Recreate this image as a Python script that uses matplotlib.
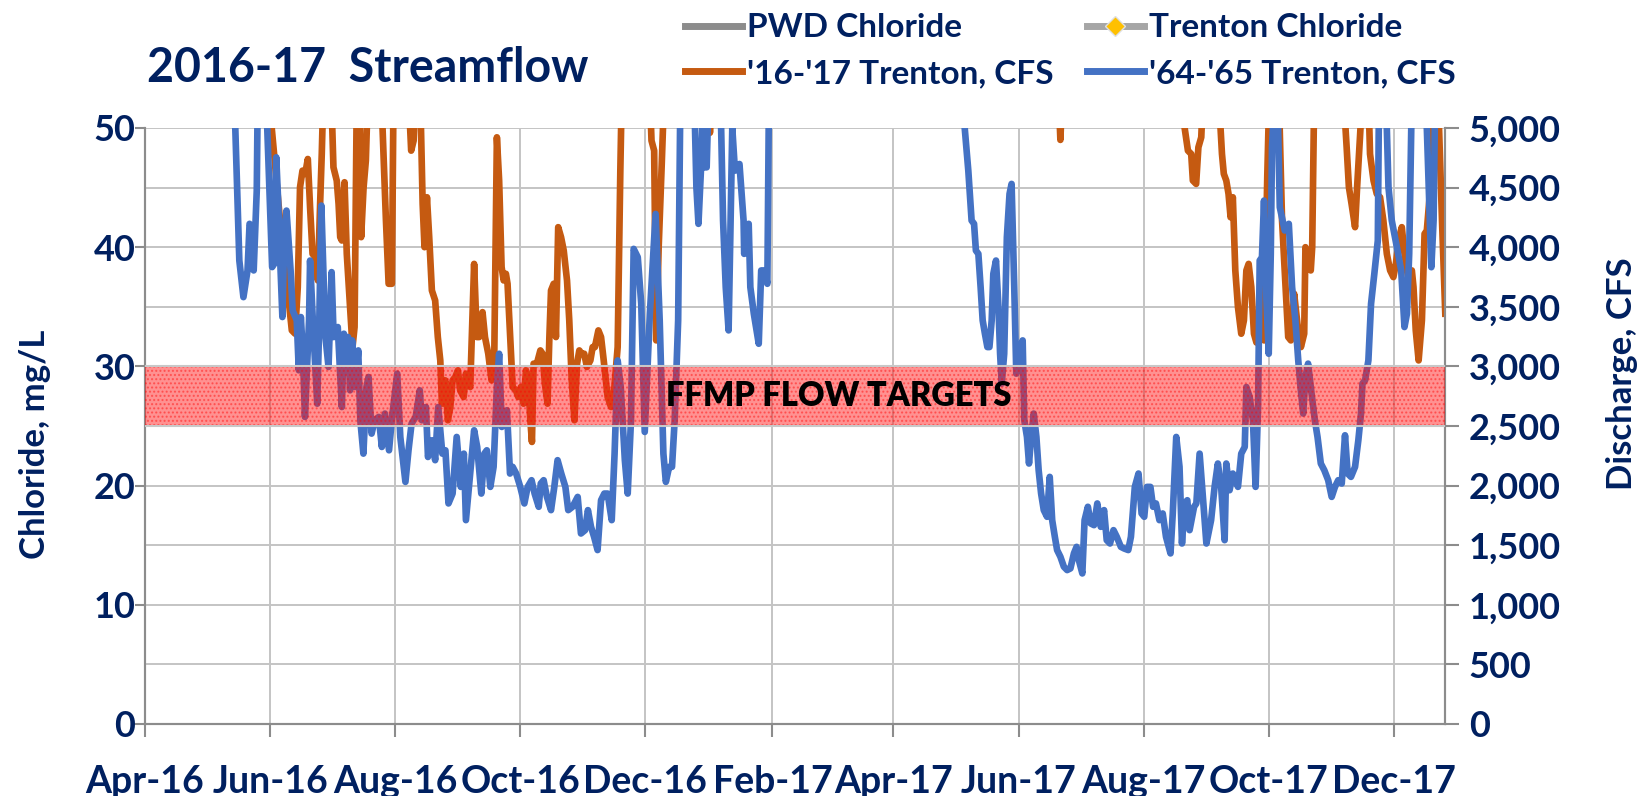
import pandas as pd
import matplotlib
matplotlib.use('Agg')
import matplotlib.pyplot as plt
import matplotlib.dates as mdates
from matplotlib.lines import Line2D
from matplotlib.ticker import FuncFormatter, MultipleLocator

plt.rcParams['font.family'] = ['Lato', 'DejaVu Sans']
plt.rcParams['font.weight'] = 'bold'
plt.rcParams['axes.labelweight'] = 'bold'

NAVY = '#002060'
GRID = '#C4C4C4'
AXIS = '#8C8C8C'
START = pd.Timestamp('2016-04-01')
END_DAY = 634

# days counted from 1 Apr 2016, flow in CFS (5300 = off the top of the chart)
flow_1617_day = [0, 61, 61.8, 63.4, 65.1, 66.7, 68.3, 69.9, 71.6, 73.2, 74.5, 75.6, 76.8, 78.1, 79.4,
                 80.5, 81.7, 83, 84.3, 85.4, 86.2, 87, 90.8, 91.9, 93.5, 94.4, 95.2, 96, 97.3, 98.4,
                 100, 101.2, 102.2, 103.3, 104.6, 105.4, 106.6, 107.7, 108.7, 115.2, 116.3, 117.5,
                 118.8, 120.4, 121.2, 128.5, 129.8, 131, 131.8, 134.2, 135.4, 136.3, 137.5, 138.6,
                 139.9, 141.5, 142.8, 144, 144.8, 146.4, 147.7, 148.9, 150, 151.3, 152.6, 153.7,
                 155.4, 156.5, 158.6, 160.5, 161.8, 163, 164.6, 165.8, 167.4, 169, 170.3, 171.6,
                 172.7, 173.9, 174.9, 176, 176.8, 178.1, 179.3, 180.9, 182, 183.3, 184.6, 185.8,
                 186.9, 187.9, 188.7, 189.5, 191.1, 192.8, 193.9, 195, 196.3, 197.2, 198, 199.3,
                 200.4, 201.5, 202.9, 204.2, 205.8, 206.9, 208.1, 209.4, 210.7, 211.8, 212.9, 214.2,
                 215.5, 217.2, 218.3, 219.4, 221.1, 222.4, 223.7, 225.6, 227.3, 228.9, 230.5, 231.8,
                 232.5, 246.2, 247, 248.3, 249.3, 250.5, 252, 253.2, 274, 275.5, 277, 445.5, 446.4,
                 447.3, 506.5, 507, 508.6, 510.2, 511, 512.6, 513.7, 515.1, 516, 524, 524.5, 525.2,
                 526.1, 527.3, 528.4, 529.4, 530.5, 531.7, 533, 534.6, 535.9, 537.1, 538.2, 539.5,
                 540.8, 542, 543.6, 544.7, 545.7, 547.3, 548.3, 552.9, 554.5, 555.8, 557.5, 558.8,
                 560.4, 562, 563.7, 565.3, 565.9, 567.2, 568.5, 569.2, 570.2, 584.4, 586, 587.1,
                 588.4, 590.1, 591.1, 592.5, 593.7, 596.6, 597.4, 599.1, 600.7, 602.3, 603.9, 605.6,
                 607.2, 608.8, 610, 611.6, 612.9, 614.2, 616.2, 617.8, 618.6, 619.7, 621.1, 622.7,
                 624, 625.1, 626.3, 627.9, 630.5, 632.5, 634.1]
flow_1617_cfs = [5300, 5300, 5000, 4698, 4363, 4084, 3805, 3581, 3302, 3274, 3665, 4503, 4642, 4615, 4740,
                 4335, 3944, 3916, 3721, 4363, 4782, 5300, 5300, 4670, 4559, 4363, 4084, 4056, 4545, 3944,
                 3497, 3162, 3330, 5300, 5300, 4084, 4503, 4726, 5300, 5300, 4782, 4224,
                 3693, 3693, 5300, 5300, 4810, 4894, 5300, 5300, 4363, 4000, 4419, 4084,
                 3637, 3553, 3246, 3050, 2687, 2883, 2548, 2659, 2883, 2911, 2967, 2799,
                 2743, 2939, 2827, 3860, 3246, 3246, 3455, 3246, 3106, 2883, 3050, 4922,
                 4559, 3833, 3721, 3777, 3693, 3246, 2827, 2799, 2743, 2827, 2687, 2967,
                 2883, 2548, 2366, 3023, 3023, 3134, 3106, 2855, 2687, 3246, 3637, 3693,
                 3246, 4168, 4084, 3972, 3721, 3386, 2883, 2548, 3023, 3134, 3106, 3106,
                 2995, 3050, 3162, 3162, 3302, 3246, 3050, 2743, 2659, 2827, 3162, 4642,
                 5300, 5300, 4894, 4810, 3218, 4000, 4700, 5300, 5300, 4960, 5300, 5300, 4900,
                 5300, 5300, 5000, 4810, 4782, 4559, 4531, 4838, 4922, 5300, 5300, 5000, 4782,
                 4615, 4559, 4447, 4251, 4419, 3805, 3497, 3274, 3386, 3805, 3860, 3665,
                 3274, 3200, 3330, 3274, 3218, 4600, 5300, 5300, 4224, 3805, 3246, 3218,
                 3609, 3358, 3162, 3274, 4000, 3944, 3805, 4000, 5300, 5300, 4838, 4503,
                 4363, 4168, 4503, 4922, 5300, 5300, 4782, 4559, 4447, 4419, 4224, 3944,
                 3805, 3749, 3860, 4084, 4168, 3944, 3721, 3805, 3665, 3302, 3050, 3386,
                 4112, 4140, 4391, 5300, 5300, 4224, 3442]

flow_6465_day = [0, 43.5, 46, 48, 50, 51, 52, 53, 54.5, 55, 59, 62, 63, 64, 65, 66, 67, 68, 69, 71, 72,
                 74, 75, 76, 77, 78, 80, 80.5, 82, 84, 85, 86, 88, 89.5, 91, 92, 94, 96, 97, 98, 99,
                 100, 101, 102.5, 104, 105, 106.5, 108, 109, 110.5, 112, 114, 115.5, 117, 119, 120.5,
                 123, 124.5, 127, 128.5, 130, 132, 134, 135, 137, 138, 140, 141.5, 143, 145, 146.5,
                 148, 150, 152, 154, 155.5, 156.5, 158, 160.5, 162, 164, 165.5, 166.7, 168.4, 170,
                 171.6, 172.7, 174, 175, 176.5, 178, 179.3, 181, 183, 185, 186.6, 188.5, 190, 192,
                 193, 194.4, 196, 198, 199.6, 201.2, 203, 205, 206.4, 208.5, 211, 212.6, 214.6, 216,
                 217.5, 219, 220.7, 222.4, 224, 225.6, 227.6, 229, 230.5, 232, 234, 235.4, 237,
                 238.3, 240.3, 242, 243.7, 246.2, 249, 251, 252.8, 254, 255.6, 257, 258.3, 260,
                 261.1, 267.8, 268.9, 269.9, 271.1, 272.3, 272.8, 273.9, 274.9, 280.6, 281.9, 283.2,
                 284.6, 285.6, 286.4, 287.7, 289.9, 291.9, 292.2, 294.4, 295.2, 296.9, 299.3, 300.5,
                 302.2, 303.5, 304.3, 399.5, 401.5, 403.1, 404.3, 405.2, 406.4, 407.5, 408.5, 409.6,
                 410.8, 411.8, 412.9, 413.7, 415, 416.2, 417, 417.8, 419, 420.3, 421.6, 422.6, 423.9,
                 424.9, 426, 427.1, 428, 428.8, 430.1, 431.1, 432, 433.4, 434.7, 435.8, 437, 438.3,
                 439.9, 441.2, 442.4, 443.7, 444.8, 446.4, 448.1, 449.7, 451.3, 453, 454.3, 455.4,
                 457.1, 458.2, 459.8, 461.2, 462.8, 464.4, 466.1, 467.7, 469, 470.6, 472.3, 473.9,
                 475.9, 477.5, 479.5, 480.8, 482.7, 484.5, 486, 487.3, 488.6, 490.3, 491.6, 493,
                 494.7, 496.3, 497.9, 500.1, 501.2, 502.9, 504.5, 505.7, 507, 508.3, 509.4, 511.6,
                 512.7, 514.3, 515.9, 517.6, 519.9, 521.6, 523.2, 524.8, 526.5, 527.3, 528.9, 530.5,
                 533, 534.6, 536.3, 537.1, 538.7, 540.3, 541.6, 542.8, 543.6, 544.7, 545.7, 546.9,
                 548, 549, 549.6, 550.9, 552.2, 553.4, 555.8, 557.8, 559.4, 561, 562.4, 563.5, 564.8,
                 565.9, 567.2, 568.9, 570.5, 571.8, 573.4, 575.1, 577, 578.7, 580.3, 581.9, 583.6,
                 585.2, 586.5, 588.1, 590.1, 591.7, 593, 593.7, 595, 596.6, 597.9, 599.5, 601.2,
                 601.8, 605.1, 606.4, 608, 610.5, 612.6, 614.2, 615.4, 616.5, 617.8, 624, 625.1,
                 626.3, 627.3, 628.4, 629.2, 634.5]
flow_6465_cfs = [5300, 5300, 3888, 3581, 3805, 4196, 4168, 3805, 4475, 5300, 5300, 3833, 3860, 4754, 4363,
                 3860, 3414, 4140, 4307, 3805, 3469, 3386, 2967, 3414, 3106, 2576, 3386, 3888, 3330,
                 2687, 3386, 4349, 3246, 2995, 3791, 3246, 3330, 2659, 3274, 3050, 3246, 2799, 3218,
                 2827, 3134, 2548, 2268, 2827, 2911, 2436, 2548, 2576, 2324, 2604, 2296, 2576, 2939,
                 2408, 2031, 2296, 2520, 2576, 2799, 2548, 2659, 2240, 2380, 2213, 2659, 2268, 2296,
                 1850, 1933, 2408, 1989, 2268, 1710, 1989, 2464, 2324, 1933, 2268, 2296, 1989, 2157,
                 2827, 3106, 2492, 2548, 2632, 2101, 2157, 2101, 1989, 1850, 1989, 2045, 1933, 1822,
                 2017, 2045, 1905, 1794, 1989, 2213, 2101, 1989, 1794, 1822, 1905, 1598, 1626, 1794,
                 1654, 1570, 1459, 1877, 1933, 1933, 1710, 2268, 3050, 2827, 2213, 1933, 2548,
                 3986, 3916, 3525, 2450, 3442, 4279, 3386, 2268, 2031, 2157, 2157, 2548, 3386,
                 5300, 5300, 4503, 4196, 4642, 5300, 4670, 4670, 5300, 5300, 4224, 3665,
                 3302, 4224, 5000, 4642, 4698, 4224, 3944, 4196, 3665, 3442, 3190, 3805,
                 3805, 3693, 5300, 5050, 4642, 4224, 4196, 3972, 3944, 3665, 3386, 3274,
                 3162, 3162, 3386, 3777, 3888, 3497, 3106, 2855, 3106, 4084, 4447, 4531, 3665,
                 2939, 2995, 3162, 3218, 2548, 2408, 2185, 2380, 2604, 2408, 2129, 1933, 1794,
                 1738, 2073, 1710, 1570, 1459, 1403, 1319, 1291, 1305, 1431, 1486, 1375,
                 1263, 1710, 1822, 1682, 1668, 1850, 1654, 1794, 1542, 1514, 1626, 1570,
                 1486, 1472, 1459, 1570, 1989, 2101, 1766, 1738, 1989, 1989, 1822, 1850,
                 1710, 1766, 1570, 1431, 1766, 2408, 2157, 1514, 1850, 1877, 1626, 1822,
                 1850, 2268, 1905, 1514, 1710, 1989, 2185, 1989, 1542, 2185, 1961, 2101,
                 1989, 2268, 2324, 2827, 2743, 2548, 1989, 2659, 3888, 3916, 4391, 3553,
                 3106, 3944, 4838, 5300, 5300, 4335, 4140, 4196, 3665, 3386, 3050, 2827, 2604,
                 2911, 3023, 2771, 2548, 2408, 2185, 2129, 2045, 1905, 1989, 2045, 2017,
                 2422, 2101, 2073, 2157, 2380, 2604, 2855, 2883, 3050, 3525, 3777, 4056,
                 5300, 5300, 4503, 4224, 4000, 3805, 3330, 3442, 3944, 5300, 5300, 5000,
                 4363, 3832, 4224, 5300, 5300]

target_low, target_high = 2500, 3000
chloride_ticks = [0, 10, 20, 30, 40, 50]


def to_dates(days):
    return START + pd.to_timedelta(days, unit='D')


fig = plt.figure(figsize=(16.44, 7.96), dpi=100)
ax = fig.add_axes([0.0882, 0.0905, 0.7908, 0.7487])
ax2 = ax.twinx()

ax.set_xlim(START, START + pd.Timedelta(days=END_DAY))
ax.set_ylim(0, 50)
ax2.set_ylim(0, 5000)

# flow lines on the discharge axis
ax2.plot(to_dates(flow_1617_day), flow_1617_cfs, color='#C55A11', lw=4.8, zorder=2,
         solid_joinstyle='round')
ax2.plot(to_dates(flow_6465_day), flow_6465_cfs, color='#4472C4', lw=4.8, zorder=2,
         solid_joinstyle='round')

# FFMP target band drawn over the lines
ax2.axhspan(target_low, target_high, facecolor=(1, 0.1, 0.1, 0.48), edgecolor=(1, 0, 0, 0.4),
            hatch='....', lw=0, zorder=3)
for yv in (target_low, target_high):
    ax2.axhline(yv, color='#C8C8C8', lw=1.5, zorder=3)
ax2.text(0.534, (target_low + target_high) / 2, 'FFMP FLOW TARGETS',
         transform=ax2.get_yaxis_transform(), ha='center', va='center',
         fontsize=23.5, fontweight='heavy', color='black', zorder=4)

# axes, ticks and grid
ax.xaxis.set_major_locator(mdates.MonthLocator(bymonth=(2, 4, 6, 8, 10, 12)))
ax.xaxis.set_major_formatter(mdates.DateFormatter('%b-%y'))
ax.set_yticks(chloride_ticks)
ax2.yaxis.set_major_locator(MultipleLocator(500))
ax2.yaxis.set_major_formatter(FuncFormatter(lambda v, p: f'{v:,.0f}'))

ax.grid(axis='x', color=GRID, lw=1.4)
ax2.grid(axis='y', color=GRID, lw=1.4)
ax.set_axisbelow(True)
ax2.set_axisbelow(True)

for a in (ax, ax2):
    a.spines['top'].set_visible(False)
    for s in ('left', 'right', 'bottom'):
        a.spines[s].set_color(AXIS)
        a.spines[s].set_linewidth(1.5)

ax.tick_params(axis='x', length=9.5, width=1.5, color=AXIS, pad=20,
               labelsize=27, labelcolor=NAVY)
ax.tick_params(axis='y', length=7, width=1.5, color=AXIS, pad=0,
               labelsize=26, labelcolor=NAVY)
ax2.tick_params(axis='y', length=10, width=1.5, color=AXIS, pad=7,
                labelsize=26, labelcolor=NAVY)

ax.set_ylabel('Chloride, mg/L', fontsize=25, color=NAVY)
ax.yaxis.set_label_coords(-0.072, 0.47)
ax2.set_ylabel('Discharge, CFS', fontsize=25, color=NAVY)
ax2.yaxis.set_label_coords(1.124, 0.587)

fig.text(147 / 1644, 1 - 82 / 796, '2016-17  Streamflow', fontsize=33.5, color=NAVY,
         ha='left', va='baseline')

# legend: the chloride series have no points in this period
handles = [
    Line2D([], [], color='#8C8C8C', lw=5),
    Line2D([], [], color='#C55A11', lw=5),
    Line2D([], [], color='#A6A6A6', lw=5, marker='D', markersize=10,
           markerfacecolor='#FFC000', markeredgecolor='#E0E0E0'),
    Line2D([], [], color='#4472C4', lw=5),
]
labels = ['PWD Chloride', "'16-'17 Trenton, CFS", 'Trenton Chloride', "'64-'65 Trenton, CFS"]
fig.legend(handles, labels, loc='upper left', bbox_to_anchor=(672 / 1644, 1.0), ncol=2,
           frameon=False, fontsize=24, labelcolor=NAVY, handlelength=1.7,
           handletextpad=0.15, columnspacing=1.0, labelspacing=0.5, borderaxespad=0)

fig.savefig('out.png', dpi=100)
